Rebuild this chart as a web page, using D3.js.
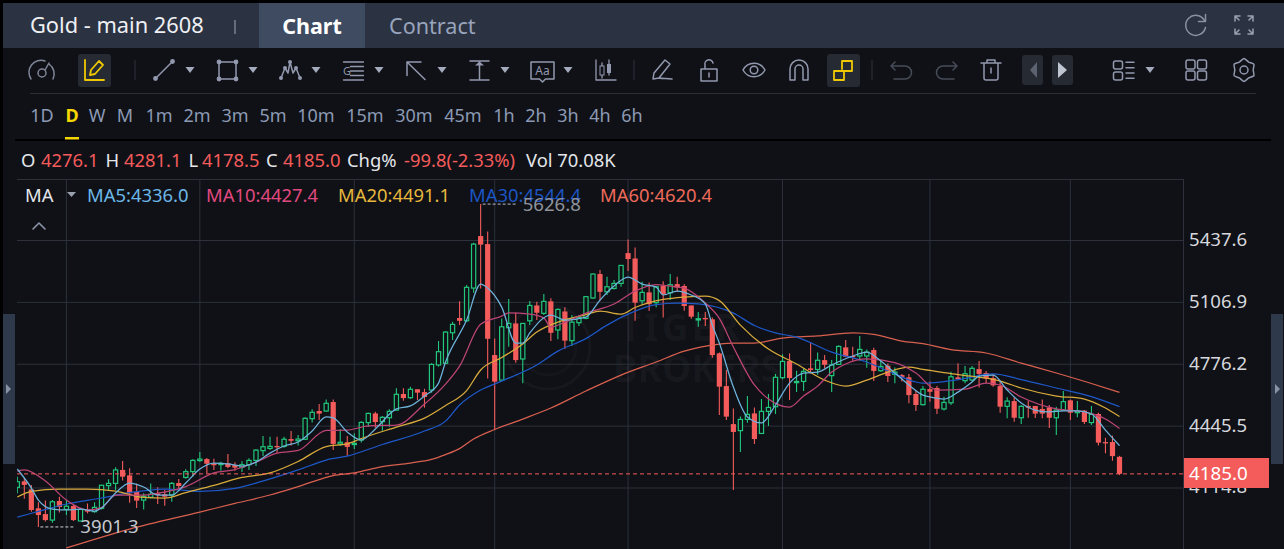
<!DOCTYPE html>
<html>
<head>
<meta charset="utf-8">
<title>Gold - main 2608</title>
<script src="https://cdn.jsdelivr.net/npm/d3@7"></script>
<style>
  html, body { margin: 0; padding: 0; background: #000; overflow: hidden; }
  text { font-family: "Noto Sans", sans-serif; }
</style>
</head>
<body>
<div id="chart"></div>
<script>
const opens = [
  4113,4145,4102,4001,3970,3938,4040,3995,4013,3933,
  3992,3983,4001,4122,4134,4206,4177,4088,4045,4060,
  4081,4076,4072,4136,4166,4197,4256,4264,4241,4236,
  4241,4232,4220,4234,4257,4309,4321,4334,4332,4371,
  4362,4370,4480,4521,4521,4569,4345,4354,4343,4366,
  4459,4508,4464,4485,4526,4612,4592,4637,4622,4633,
  4767,4776,4939,5018,5003,5178,5456,5413,4820,4686,
  4966,4989,4799,5003,5085,5043,5107,4954,5053,4897,
  4993,5016,5125,5253,5158,5176,5203,5365,5336,5110,
  5155,5100,5189,5153,5199,5189,5085,5011,5018,5011,
  4829,4654,4451,4416,4476,4508,4401,4519,4544,4699,
  4788,4674,4679,4749,4743,4793,4710,4770,4861,4815,
  4815,4815,4847,4736,4763,4717,4713,4701,4612,4555,
  4638,4644,4532,4565,4701,4683,4687,4745,4724,4697,
  4654,4546,4574,4485,4548,4548,4532,4540,4485,4526,
  4578,4512,4523,4459,4505,4355,4355,4276.1];
const highs = [
  4170,4161,4125,4033,4042,4045,4063,4042,4019,4002,
  4027,4033,4127,4156,4220,4254,4215,4134,4081,4134,
  4113,4099,4141,4158,4209,4263,4302,4270,4266,4250,
  4291,4247,4252,4268,4316,4387,4384,4384,4384,4414,
  4393,4487,4530,4558,4583,4583,4423,4387,4402,4466,
  4512,4517,4494,4530,4642,4642,4651,4637,4640,4776,
  4895,4947,4998,5107,5194,5420,5626.8,5481,4909,5016,
  5119,5048,4989,5109,5105,5146,5123,5069,5075,5034,
  5034,5132,5256,5274,5239,5221,5299,5438,5395,5212,
  5208,5189,5215,5253,5239,5199,5085,5050,5050,5021,
  4834,4740,4535,4491,4601,4540,4585,4612,4719,4824,
  4829,4736,4749,4888,4833,4820,4793,4873,4900,4865,
  4922,4850,4859,4793,4775,4754,4719,4719,4629,4654,
  4678,4654,4597,4731,4776,4761,4761,4788,4735,4717,
  4678,4594,4594,4553,4574,4548,4583,4553,4544,4628,
  4583,4574,4526,4548,4512,4378,4389,4281.1];
const lows = [
  4081,4052,3983,3901.3,3930,3924,3978,3965,3933,3933,
  3974,3978,3995,4099,4099,4149,4031,4002,3995,4054,
  4024,4015,4036,4108,4159,4170,4250,4188,4206,4202,
  4215,4202,4195,4206,4227,4280,4312,4298,4325,4336,
  4336,4366,4459,4473,4517,4313,4334,4282,4318,4352,
  4437,4432,4416,4437,4523,4576,4587,4580,4539,4619,
  4758,4772,4900,4980,4998,5153,5176,4695,4419,4686,
  4865,4779,4669,4980,5007,5034,4895,4904,4854,4868,
  4975,5011,5121,5110,5141,5171,5185,5269,5003,5087,
  5055,5075,5021,5114,5157,5057,5014,4971,4975,4806,
  4499,4473,4099,4302,4458,4345,4398,4441,4505,4690,
  4580,4622,4628,4722,4715,4749,4622,4767,4808,4790,
  4790,4752,4681,4731,4676,4669,4678,4562,4521,4551,
  4571,4505,4523,4553,4690,4669,4678,4647,4669,4651,
  4512,4482,4464,4451,4485,4483,4482,4430,4393,4523,
  4473,4487,4451,4446,4336,4295,4255,4178.5];
const closes = [
  4143,4126,3992,3965,3938,4036,4008,4012,3938,3995,
  3983,4006,4124,4134,4206,4170,4081,4042,4065,4076,
  4072,4063,4134,4120,4197,4257,4264,4239,4231,4241,
  4222,4218,4234,4257,4312,4330,4332,4327,4370,4362,
  4371,4482,4514,4507,4562,4345,4354,4329,4348,4460,
  4508,4462,4487,4519,4610,4590,4637,4619,4596,4770,
  4838,4943,4984,5003,5182,5413,5410,4907,4678,4971,
  4989,4793,4989,5085,5046,5107,4939,5064,4897,4996,
  5021,5132,5253,5158,5185,5203,5299,5333,5100,5155,
  5092,5185,5146,5196,5182,5082,5025,5014,5011,4820,
  4651,4491,4409,4476,4503,4371,4519,4540,4701,4786,
  4697,4679,4733,4740,4792,4768,4767,4866,4811,4808,
  4850,4836,4735,4759,4708,4729,4699,4606,4553,4637,
  4624,4533,4567,4704,4692,4720,4749,4719,4694,4658,
  4544,4574,4485,4546,4539,4507,4507,4485,4526,4571,
  4512,4521,4462,4503,4352,4348,4280,4185.0];

// moving averages as [bar, price]
const ma5 = [[0,4211],[2,4109],[3,4045],[5,3997],[7,3992],[9,3997],[11,3986],[12,4003],[14,4083],[16,4136],[18,4115],[20,4072],[22,4072],[24,4136],[26,4211],[28,4243],[30,4238],[32,4227],[34,4248],[36,4296],[38,4334],[40,4355],[42,4414],[44,4489],[45,4484],[47,4409],[49,4366],[51,4425],[54,4532],[56,4548],[58,4601],[60,4670],[61,4783],[64,5007],[66,5199],[67,5178],[69,5076],[71,4884],[72,4884],[73,4938],[76,5034],[78,5007],[81,5023],[83,5114],[85,5189],[87,5237],[89,5199],[91,5183],[92,5141],[94,5162],[96,5141],[98,5093],[99,4980],[100,4884],[102,4649],[104,4489],[106,4457],[108,4553],[110,4670],[112,4724],[114,4729],[116,4767],[119,4815],[121,4836],[123,4788],[125,4724],[127,4660],[129,4606],[130,4596],[132,4585],[134,4622],[136,4676],[137,4708],[139,4713],[141,4633],[143,4564],[145,4526],[147,4516],[149,4521],[151,4521],[153,4505],[155,4419],[157,4336]];
const ma10 = [[0,4200],[1,4206],[4,4147],[7,4045],[10,3992],[12,4005],[14,4072],[18,4072],[21,4088],[24,4117],[28,4190],[31,4208],[34,4248],[37,4296],[40,4310],[44,4417],[47,4419],[50,4441],[54,4446],[58,4558],[61,4665],[63,4761],[66,4985],[69,5028],[70,5045],[73,5039],[75,5018],[76,4970],[78,4996],[81,5044],[85,5093],[88,5162],[91,5197],[94,5183],[95,5178],[98,5098],[100,5016],[102,4863],[105,4660],[107,4585],[110,4542],[112,4601],[114,4654],[116,4729],[118,4772],[121,4799],[125,4780],[128,4724],[131,4633],[135,4638],[138,4670],[140,4660],[143,4596],[148,4532],[152,4516],[155,4478],[157,4427.4]];
const ma20 = [[0,4061],[2,4091],[6,4104],[10,4104],[14,4093],[18,4059],[21,4056],[24,4085],[28,4123],[32,4166],[36,4190],[40,4251],[44,4331],[47,4345],[49,4374],[54,4435],[58,4483],[61,4550],[64,4630],[66,4740],[69,4807],[72,4879],[74,4943],[77,4996],[81,5036],[83,5055],[86,5039],[88,5074],[92,5117],[95,5130],[98,5135],[100,5111],[103,4980],[107,4852],[111,4772],[115,4686],[118,4654],[121,4686],[124,4729],[127,4756],[129,4743],[134,4716],[140,4681],[143,4644],[148,4601],[152,4585],[155,4537],[157,4491.1]];
const ma30 = [[0,3954],[3,3984],[7,4024],[12,4056],[16,4085],[21,4104],[26,4091],[31,4107],[36,4158],[40,4206],[44,4259],[47,4280],[52,4342],[58,4414],[61,4467],[63,4553],[66,4633],[69,4681],[74,4767],[77,4841],[81,4908],[84,4980],[87,5039],[91,5090],[94,5098],[97,5093],[102,5044],[105,4978],[108,4938],[111,4916],[116,4836],[121,4783],[125,4719],[128,4676],[129,4670],[134,4689],[139,4719],[143,4689],[148,4644],[153,4598],[157,4544.4]];
const ma60 = [[7,3789],[16,3890],[26,3981],[31,4027],[36,4072],[40,4117],[45,4176],[48,4190],[52,4224],[56,4243],[59,4262],[61,4288],[63,4320],[65,4371],[68,4422],[72,4478],[76,4537],[81,4628],[86,4713],[91,4783],[95,4841],[100,4879],[102,4884],[105,4884],[109,4911],[114,4922],[119,4938],[122,4930],[126,4895],[129,4881],[133,4849],[138,4831],[143,4777],[148,4724],[153,4668],[157,4620.4]];

const priceTicks = [5437.6, 5106.9, 4776.2, 4445.5, 4114.8];
const gridBars = [7, 26, 48, 68, 87, 109, 130, 150];
const timeframes = ["1D","D","W","M","1m","2m","3m","5m","10m","15m","30m","45m","1h","2h","3h","4h","6h"];
const timeframeX = [42,72,97,125,159,197,235,273,316,365,414,463,504,536,568,600,632];

const UP = "#22c77c", DOWN = "#f45b5b", BG = "#0f1116", GRID = "#2c313b";
const IC = "#9298ae";

const svg = d3.select("#chart").append("svg")
  .attr("width", 1284).attr("height", 549)
  .style("display", "block");

const x = d3.scaleLinear().domain([0, closes.length - 1]).range([17.3, 1119.5]);
const y = d3.scaleLinear().domain([4114.8, 5437.6]).range([487, 239.5]);

// panels
svg.append("rect").attr("x", 3).attr("y", 3).attr("width", 1281).attr("height", 546).attr("fill", BG);
svg.append("rect").attr("x", 3).attr("y", 3).attr("width", 1281).attr("height", 45).attr("fill", "#2b3242");
svg.append("rect").attr("x", 259).attr("y", 3).attr("width", 106).attr("height", 45).attr("fill", "#3e4b60");

svg.append("text").attr("x", 30).attr("y", 33).attr("fill", "#eef0f4").attr("font-size", 21.8).text("Gold - main 2608");
svg.append("line").attr("x1", 235).attr("x2", 235).attr("y1", 20).attr("y2", 34).attr("stroke", "#a0a7b5");
svg.append("text").attr("x", 312).attr("y", 34).attr("text-anchor", "middle").attr("fill", "#fff").attr("font-weight", 700).attr("font-size", 21.5).text("Chart");
svg.append("text").attr("x", 389).attr("y", 34).attr("fill", "#98a4bc").attr("font-size", 21.6).text("Contract");

// dividers
svg.append("line").attr("x1", 30).attr("x2", 1256).attr("y1", 93.5).attr("y2", 93.5).attr("stroke", "#2a2f38");
svg.append("rect").attr("x", 15).attr("y", 139).attr("width", 1256).attr("height", 2).attr("fill", "#000");

// toolbar
function icon(cx, cy, d, color, width) {
  return svg.append("path").attr("transform", `translate(${cx},${cy})`).attr("d", d)
    .attr("fill", "none").attr("stroke", color || IC).attr("stroke-width", width || 1.5)
    .attr("stroke-linecap", "round").attr("stroke-linejoin", "round");
}
function dots(cx, cy, pts, r) {
  svg.append("g").attr("transform", `translate(${cx},${cy})`).selectAll("circle").data(pts).join("circle")
    .attr("cx", d => d[0]).attr("cy", d => d[1]).attr("r", r).attr("fill", IC);
}
function caret(cx, cy) {
  svg.append("path").attr("transform", `translate(${cx},${cy})`).attr("d", "M-4.5,-3L4.5,-3L0,3Z").attr("fill", "#a4abbc");
}
function highlight(x0, w) {
  svg.append("rect").attr("x", x0).attr("y", 54).attr("width", w).attr("height", 33).attr("rx", 3).attr("fill", "#262a33");
}
function sep(px) {
  svg.append("line").attr("x1", px).attr("x2", px).attr("y1", 60).attr("y2", 80).attr("stroke", "#2e333d");
}
[135, 634, 872].forEach(sep);
highlight(78, 33);
highlight(827, 33);

icon(42, 70, "M-11,9A12,12 0 0 1 3,-9M7,-6A12,12 0 0 1 11,9M3,0L7,-7", "#7f8698");
svg.append("circle").attr("cx", 42).attr("cy", 73).attr("r", 4).attr("fill", "none").attr("stroke", "#7f8698").attr("stroke-width", 1.5);
icon(94, 70, "M-9,-10V10H10M-4,5L-3,0L5,-9L9,-5L1,4Z", "#f0c800", 1.8);
icon(164, 70, "M-8.5,8.5L8.5,-8.5", IC);
dots(164, 70, [[-8.5,8.5],[8.5,-8.5]], 2.4);
icon(227.5, 70.5, "M-8.5,-8.5H8.5V8.5H-8.5Z", IC, 1.5);
dots(227.5, 70.5, [[-8.5,-8.5],[8.5,-8.5],[8.5,8.5],[-8.5,8.5]], 2.4);
icon(290, 70, "M-9,8L-5,-2L-2,3L0,-8L3,3L6,-2L10,8", IC);
dots(290, 70, [[-9,8],[-5,-2],[0,-8],[6,-2],[10,8]], 2);
icon(353.5, 71, "M-10,-9H10M-3,-4.5H10M-3,0H10M-3,4.5H10M-10,9H10", IC, 1.3);
svg.append("text").attr("x", 343).attr("y", 75).attr("fill", IC).attr("font-size", 11).text("G");
icon(416, 70.5, "M-9,-8.5L9,9M-9,-8.5H5M-9,-8.5V5", IC);
icon(479.5, 70.5, "M-9.5,-9.5H9.5M-9.5,9.5H9.5M0,-9.5V9.5", IC);
svg.append("path").attr("d", "M475,65.5L479.5,61.5L484,65.5Z").attr("fill", IC);
icon(542.5, 70.5, "M-11.5,-8.5H11.5V8.5H3L0,11.5L-3,8.5H-11.5Z", IC);
svg.append("text").attr("x", 542.5).attr("y", 75).attr("text-anchor", "middle").attr("fill", IC).attr("font-size", 12).text("Aa");
icon(606, 70, "M-10,-10V10H10M-4,-7V8M3,-10V5", IC, 1.3);
svg.append("rect").attr("x", 600).attr("y", 66).attr("width", 4).attr("height", 9).attr("fill", BG).attr("stroke", IC);
svg.append("rect").attr("x", 607).attr("y", 64).attr("width", 4).attr("height", 9).attr("fill", IC);
[190, 253, 316, 379, 442, 505, 568, 1150].forEach(cx => caret(cx, 70));
icon(662, 70, "M-9,9L-8,3L3,-10L8,-6L-3,8ZM-3,8C1,9 5,8 10,9", IC);
icon(709, 71, "M-8,-2H8V10H-8ZM-4,-2V-6A4,4 0 0 1 4,-8M0,2V6", IC);
icon(754, 70, "M-11,0C-6,-9 6,-9 11,0C6,9 -6,9 -11,0Z", IC);
svg.append("circle").attr("cx", 754).attr("cy", 70).attr("r", 3.8).attr("fill", "none").attr("stroke", IC).attr("stroke-width", 1.5);
icon(799, 70, "M-9,10V-1A9,9 0 0 1 9,-1V10H4V-1A4,4 0 0 0 -4,-1V10Z", IC);
icon(843, 70, "M-9,1H1V10H-9ZM-1,-1V-9H9V1H1", "#f0c800", 1.8);
icon(902, 70, "M-7,-8L-11,-4L-7,0M-11,-4H3A6,6 0 0 1 3,9H-8", "#474c58");
icon(946, 70, "M7,-8L11,-4L7,0M11,-4H-3A6,6 0 0 0 -3,9H8", "#474c58");
icon(991, 70, "M-10,-7H10M-4,-7V-10H4V-7M-7,-7V8A2,2 0 0 0 -5,10H5A2,2 0 0 0 7,8V-7M0,-2V3", IC);
svg.append("rect").attr("x", 1022).attr("y", 55).attr("width", 21).attr("height", 30).attr("rx", 3).attr("fill", "#262a33");
svg.append("rect").attr("x", 1052).attr("y", 55).attr("width", 21).attr("height", 30).attr("rx", 3).attr("fill", "#262a33");
svg.append("path").attr("d", "M1037,62V78L1030,70Z").attr("fill", "#5c6270");
svg.append("path").attr("d", "M1058,62V78L1067,70Z").attr("fill", "#c0c5d2");
const rr = (x0, y0, w, h) => `M${x0 + 2},${y0}h${w - 4}a2,2 0 0 1 2,2v${h - 4}a2,2 0 0 1 -2,2h${-(w - 4)}a2,2 0 0 1 -2,-2v${-(h - 4)}a2,2 0 0 1 2,-2Z`;
icon(1124, 70, rr(-10.5,-9,9,8) + rr(-10.5,2,9,8) + "M2,-7.7h8M2,-2.3h8M2,3h8M2,8.3h8", IC);
icon(1196.5, 70, rr(-10.5,-10,9,9) + rr(1,-10,9,9) + rr(-10.5,1,9,9) + rr(1,1,9,9), IC);
const gearPts = d3.range(12).map(k => [k * Math.PI / 6, k % 2 ? 9.2 : 11.5]);
icon(1244, 70, d3.lineRadial().curve(d3.curveCardinalClosed.tension(0.5))(gearPts), IC);
svg.append("circle").attr("cx", 1244).attr("cy", 70).attr("r", 4).attr("fill", "none").attr("stroke", IC).attr("stroke-width", 1.5);

// header right icons
icon(1195.5, 25.5, "M9,-5A10,10 0 1 0 10,2M10,-11V-4H3", "#8a91a3");
icon(1244, 25, "M-9,-9h5M-9,-9v5M-9,-9l4,4M9,-9h-5M9,-9v5M9,-9l-4,4M-9,9h5M-9,9v-5M-9,9l4,-4M9,9h-5M9,9v-5M9,9l-4,-4", "#98a0b2");

// timeframes
svg.append("g").selectAll("text").data(timeframes).join("text")
  .attr("x", (d, i) => timeframeX[i]).attr("y", 122).attr("text-anchor", "middle")
  .attr("font-size", 18).attr("font-weight", d => d === "D" ? 700 : 400)
  .attr("fill", d => d === "D" ? "#f6d600" : "#8c9ab4").text(d => d);
svg.append("rect").attr("x", 65).attr("y", 137).attr("width", 14).attr("height", 2.5).attr("fill", "#f6d600");

// quote line
const WHITE = "#e4e6ea";
const quote = [["O",21,WHITE],["4276.1",41,DOWN],["H",105.5,WHITE],["4281.1",124,DOWN],["L",188.5,WHITE],["4178.5",202,DOWN],["C",266,WHITE],["4185.0",283,DOWN],["Chg%",347,WHITE],["-99.8(-2.33%)",404,DOWN],["Vol 70.08K",526,WHITE]];
svg.append("g").selectAll("text").data(quote).join("text")
  .attr("x", d => d[1]).attr("y", 166.5).attr("font-size", 18.4).attr("fill", d => d[2]).text(d => d[0]);

// plot frame and grid
svg.append("line").attr("x1", 17).attr("x2", 1183).attr("y1", 179.5).attr("y2", 179.5).attr("stroke", GRID);
svg.append("line").attr("x1", 1183.5).attr("x2", 1183.5).attr("y1", 179).attr("y2", 549).attr("stroke", GRID);
svg.append("g").selectAll("line").data(gridBars).join("line")
  .attr("x1", d => x(d)).attr("x2", d => x(d)).attr("y1", 179).attr("y2", 549).attr("stroke", GRID);

// watermark
const wm = svg.append("g").attr("fill", "#ffffff").attr("fill-opacity", 0.035).attr("font-weight", 700).attr("font-size", 37);
wm.append("text").attr("x", 620).attr("y", 341).attr("letter-spacing", 3).text("TIGER");
wm.append("text").attr("x", 613).attr("y", 382).text("BROKERS");
svg.append("circle").attr("cx", 548).attr("cy", 347).attr("r", 42).attr("fill", "none").attr("stroke", "#fff").attr("stroke-opacity", 0.03).attr("stroke-width", 3);
svg.append("circle").attr("cx", 548).attr("cy", 347).attr("r", 28).attr("fill", "none").attr("stroke", "#fff").attr("stroke-opacity", 0.025).attr("stroke-width", 3);

const axis = d3.axisRight(y).tickValues(priceTicks).tickFormat(d3.format(".1f")).tickSize(-1166).tickPadding(6);
const axisG = svg.append("g").attr("transform", "translate(1183,0)").call(axis);
axisG.select(".domain").remove();
axisG.selectAll("line").attr("stroke", GRID).attr("transform", "translate(0,0.5)");
axisG.selectAll("text").attr("x", 6).attr("font-size", 18.6).attr("fill", "#d6d8dd").attr("font-family", '"Noto Sans", sans-serif');

// candles
svg.append("clipPath").attr("id", "plot").append("rect").attr("x", 17).attr("y", 179).attr("width", 1166).attr("height", 370);
const plot = svg.append("g").attr("clip-path", "url(#plot)");

const bars = closes.map((c, i) => ({ i, o: opens[i], h: highs[i], l: lows[i], c, up: c >= opens[i] }));
plot.append("g").selectAll("line").data(bars).join("line")
  .attr("x1", d => x(d.i)).attr("x2", d => x(d.i))
  .attr("y1", d => y(d.h)).attr("y2", d => y(d.l))
  .attr("stroke", d => d.up ? UP : DOWN).attr("stroke-width", 1.1);
plot.append("g").selectAll("rect").data(bars).join("rect")
  .attr("x", d => x(d.i) - (d.up ? 2.1 : 2.6))
  .attr("y", d => y(Math.max(d.o, d.c)))
  .attr("width", d => d.up ? 4.2 : 5.2)
  .attr("height", d => Math.max(1.2, Math.abs(y(d.o) - y(d.c))))
  .attr("fill", d => d.up ? BG : DOWN)
  .attr("stroke", d => d.up ? UP : "none").attr("stroke-width", 1.2);

// moving averages
const maLine = d3.line().x(d => x(d[0])).y(d => y(d[1])).curve(d3.curveMonotoneX);
const maSeries = [
  { name: "MA60", pts: ma60, color: "#ee6a5a", line: "#d9604f", label: "MA60:4620.4", lx: 600 },
  { name: "MA30", pts: ma30, color: "#1c55c4", line: "#1e58c8", label: "MA30:4544.4", lx: 469 },
  { name: "MA20", pts: ma20, color: "#e7b73d", line: "#d9ab3c", label: "MA20:4491.1", lx: 338 },
  { name: "MA10", pts: ma10, color: "#e0497f", line: "#bd4576", label: "MA10:4427.4", lx: 206 },
  { name: "MA5", pts: ma5, color: "#6cb8e8", line: "#6fb3dc", label: "MA5:4336.0", lx: 87 }
];
plot.append("g").selectAll("path").data(maSeries).join("path")
  .attr("d", d => maLine(d.pts)).attr("fill", "none")
  .attr("stroke", d => d.line).attr("stroke-width", 1.25);

// last price
const lastY = y(closes[closes.length - 1]);
svg.append("line").attr("x1", 17).attr("x2", 1183).attr("y1", lastY).attr("y2", lastY)
  .attr("stroke", DOWN).attr("stroke-width", 1).attr("stroke-dasharray", "4,3");
svg.append("rect").attr("x", 1184).attr("y", 458).attr("width", 85).attr("height", 30).attr("fill", DOWN);
svg.append("text").attr("x", 1189).attr("y", 480).attr("font-size", 18.8).attr("fill", "#fff").text("4185.0");

// legend
svg.append("text").attr("x", 25).attr("y", 201.5).attr("font-size", 18.4).attr("fill", WHITE).text("MA");
svg.append("path").attr("d", "M67,192H76L71.5,197Z").attr("fill", "#9aa0ae");
icon(39, 226, "M-6,3L0,-3L6,3", "#8d95a9", 1.6);
svg.append("g").selectAll("text").data(maSeries).join("text")
  .attr("x", d => d.lx).attr("y", 201.5).attr("font-size", 18.4).attr("fill", d => d.color).text(d => d.label);

// high and low marks
const hiIdx = d3.maxIndex(highs), loIdx = d3.minIndex(lows);
svg.append("line").attr("x1", x(hiIdx) + 2).attr("x2", x(hiIdx) + 37).attr("y1", y(highs[hiIdx])).attr("y2", y(highs[hiIdx]))
  .attr("stroke", "#b8bcc4").attr("stroke-dasharray", "3,2");
svg.append("text").attr("x", x(hiIdx) + 42).attr("y", y(highs[hiIdx]) + 6.5).attr("font-size", 18.6).attr("fill", "#8f939c").text(d3.format(".1f")(highs[hiIdx]));
svg.append("line").attr("x1", x(loIdx) + 2).attr("x2", x(loIdx) + 37).attr("y1", y(lows[loIdx])).attr("y2", y(lows[loIdx]))
  .attr("stroke", "#d0d3d9").attr("stroke-dasharray", "3,2");
svg.append("text").attr("x", x(loIdx) + 42).attr("y", y(lows[loIdx]) + 6.5).attr("font-size", 18.6).attr("fill", "#c6c9cf").text(d3.format(".1f")(lows[loIdx]));

// side handles
[[3, "M6,384L11,389L6,394Z"], [1271, "M1275,384L1280,389L1275,394Z"]].forEach(([hx, tri]) => {
  svg.append("rect").attr("x", hx).attr("y", 314).attr("width", 12).attr("height", 150).attr("fill", "#2e3a4c");
  svg.append("path").attr("d", tri).attr("fill", "#8a93a5");
});
</script>
</body>
</html>
